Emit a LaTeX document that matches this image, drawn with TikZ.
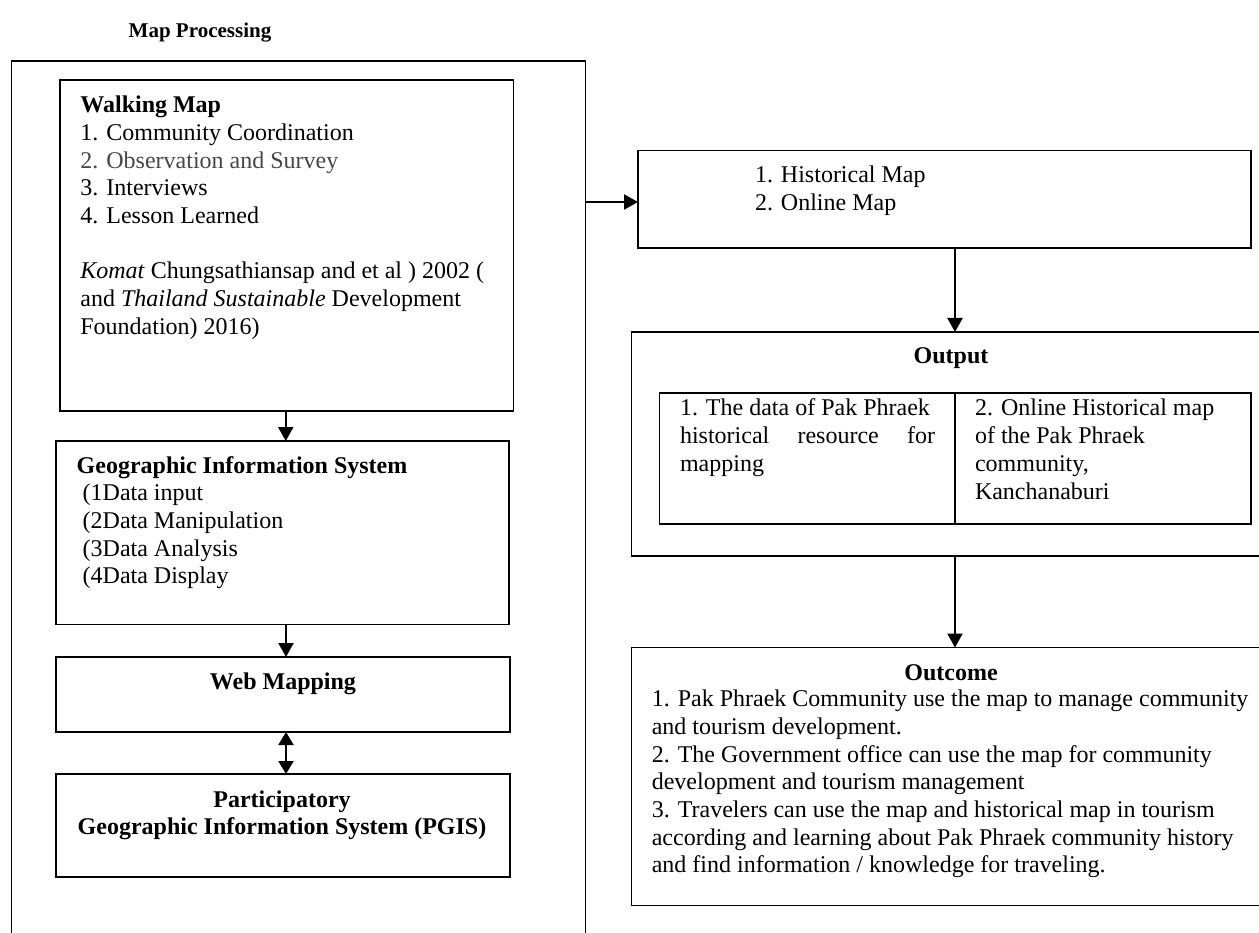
\documentclass[tikz,border=0pt]{standalone}
\usepackage{fontspec}
\setmainfont{Liberation Serif}
\usetikzlibrary{arrows.meta,calc}
\newcommand\tl[1]{\begin{tabular}[t]{@{}l@{}}#1\end{tabular}}
\newcommand\tc[1]{\begin{tabular}[t]{@{}c@{}}#1\end{tabular}}
\begin{document}
\begin{tikzpicture}[x=1pt,y=-1pt,
  box/.style={draw, line width=1.5pt, inner sep=0pt, outer sep=0pt},
  txt/.style={inner sep=0pt, outer sep=0pt, font=\fontsize{24}{27.7}\selectfont},
  arr/.style={line width=2.2pt, -{Triangle[length=14pt,width=15pt]}},
  darr/.style={line width=2.2pt, {Triangle[length=13pt,width=15pt]}-{Triangle[length=13pt,width=15pt]}}
]
\useasboundingbox (0,0) rectangle (1259,933);
\clip (0,0) rectangle (1259,933);

% title
\node[txt, anchor=base, font=\fontsize{21}{25}\selectfont\bfseries] (title) at (200,38) {Map Processing};

% outer frame (bottom edge outside the picture)
\node[box, minimum width=574pt, minimum height=889pt] (outer) at (298.5,505.5) {};

% left column boxes
\node[box, minimum width=453.5pt, minimum height=331pt] (walk) at (286.75,245.5) {};
\node[box, minimum width=453pt, minimum height=183.5pt] (gis) at (282.5,532.75) {};
\node[box, minimum width=454pt, minimum height=75pt] (web) at (283,694.5) {};
\node[box, minimum width=454pt, minimum height=103pt] (pgis) at (283,825.5) {};

% right column boxes
\node[box, minimum width=613pt, minimum height=97.5pt] (hist) at (944.5,199.25) {};
\node[box, minimum width=638.5pt, minimum height=224pt] (output) at (950.75,444) {};
\node[box, minimum width=295.5pt, minimum height=131pt] (cella) at (807.25,458.5) {};
\node[box, minimum width=296pt, minimum height=131pt] (cellb) at (1103,458.5) {};
\node[box, minimum width=638.5pt, minimum height=258pt] (outcome) at (950.75,776.5) {};
\coordinate (div) at (955,393);

% texts
\node[txt, anchor=base west] (walkt) at (80.4,112.7) {\tl{\textbf{Walking Map}\\
1. Community Coordination\\
{\color{black!72}2. Observation and Survey}\\
3. Interviews\\
4. Lesson Learned\\
\\
\textit{Komat} Chungsathiansap and et al ) 2002 (\\
and \textit{Thailand Sustainable} Development\\
Foundation) 2016)}};

\node[txt, anchor=base west] (gist) at (76.7,473) {\tl{\textbf{Geographic Information System}\\
\hspace{6pt}(1Data input\\
\hspace{6pt}(2Data Manipulation\\
\hspace{6pt}(3Data Analysis\\
\hspace{6pt}(4Data Display}};

\node[txt, anchor=base] (webt) at (283,689) {\textbf{Web Mapping}};
\node[txt, anchor=base] (pgist) at (282,807) {\tc{\textbf{Participatory}\\
\textbf{Geographic Information System (PGIS)}}};

\node[txt, anchor=base west] (histt) at (755,183) {\tl{1. Historical Map\\ 2. Online Map}};
\node[txt, anchor=base] (outt) at (951,363) {\textbf{Output}};
\node[txt, anchor=base west] (cellat) at (680,416) {\tl{1. The data of Pak Phraek\\
\makebox[255pt][s]{historical resource for}\\
mapping}};
\node[txt, anchor=base west] (cellbt) at (975,416) {\tl{2. Online Historical map\\
of the Pak Phraek\\
community,\\
Kanchanaburi}};

\node[txt, anchor=base] (outct) at (951,680) {\textbf{Outcome}};
\node[txt, anchor=base west] (outcl) at (651.8,706.7) {\tl{1. Pak Phraek Community use the map to manage community\\
and tourism development.\\
2. The Government office can use the map for community\\
development and tourism management\\
3. Travelers can use the map and historical map in tourism\\
according and learning about Pak Phraek community history\\
and find information / knowledge for traveling.}};

% connectors
\draw[arr] ([xshift=-1pt]walk.south) -- ([xshift=-1pt]walk.south |- gis.north);
\draw[arr] ([xshift=3.5pt]gis.south) -- ([xshift=3.5pt]gis.south |- web.north);
\draw[darr] ([xshift=3pt]web.south) -- ([xshift=3pt]web.south |- pgis.north);
\draw[arr] (outer.east |- 0,202) -- (hist.west |- 0,202);
\draw[arr] (hist.south -| div) -- (output.north -| div);
\draw[arr] (output.south -| div) -- (outcome.north -| div);
\end{tikzpicture}
\end{document}
